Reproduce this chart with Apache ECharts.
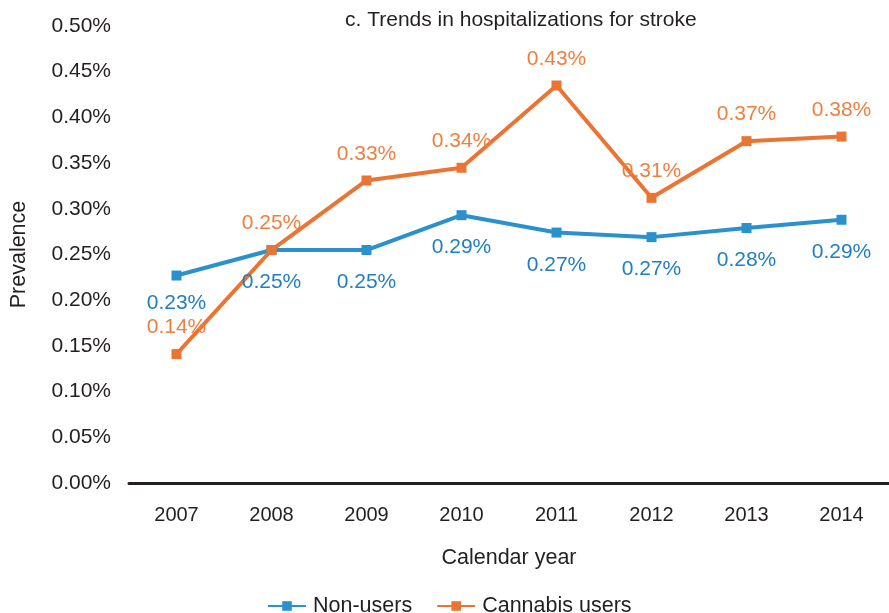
<!DOCTYPE html>
<html>
<head>
<meta charset="utf-8">
<script src="https://cdn.jsdelivr.net/npm/echarts@6/dist/echarts.min.js"></script>
<style>
  html, body { margin: 0; padding: 0; background: #fff; }
  #chart { width: 889px; height: 613px; }
</style>
</head>
<body>
<div id="chart"></div>
<script>
// data (percent)
var years = ['2007', '2008', '2009', '2010', '2011', '2012', '2013', '2014'];
var nonUsers = [0.227, 0.2549, 0.2549, 0.293, 0.274, 0.269, 0.279, 0.288];
var cannabisUsers = [0.141, 0.2549, 0.331, 0.3449, 0.4349, 0.312, 0.374, 0.379];
var yTicks = { min: 0, max: 0.5, interval: 0.05 };

var FONT = 'Liberation Sans, Arial, sans-serif';
var TEXT = '#231f20';

window.onload = function () {
    var chart = echarts.init(document.getElementById('chart'));

    var pct = function (p) { return p.value.toFixed(2) + '%'; };

    // first non-user label sits a bit closer to its point
    var nonUserData = nonUsers.map(function (v, i) {
        if (i === 0) return { value: v, label: { distance: 12 } };
        return v;
    });

    var option = {
        animation: false,
        title: {
            text: 'c. Trends in hospitalizations for stroke',
            left: 340,
            top: 5,
            textStyle: { fontFamily: FONT, fontSize: 21, fontWeight: 'normal', color: TEXT }
        },
        legend: {
            data: ['Non-users', 'Cannabis users'],
            left: 262,
            top: 590,
            itemWidth: 38,
            itemHeight: 12,
            itemGap: 24,
            textStyle: { fontFamily: FONT, fontSize: 21.5, color: TEXT, padding: [0, 0, 0, 2] }
        },
        grid: { left: 128, top: 26, width: 765, bottom: 130 },
        xAxis: {
            type: 'category',
            data: years,
            name: 'Calendar year',
            nameLocation: 'middle',
            nameGap: 64,
            nameTextStyle: { fontFamily: FONT, fontSize: 21.5, color: TEXT },
            axisLine: { lineStyle: { color: TEXT, width: 3 } },
            axisTick: { show: false },
            axisLabel: { fontFamily: FONT, fontSize: 20, color: TEXT, margin: 22 }
        },
        yAxis: {
            type: 'value',
            min: yTicks.min,
            max: yTicks.max,
            interval: yTicks.interval,
            name: 'Prevalence',
            nameLocation: 'middle',
            nameGap: 99,
            nameTextStyle: { fontFamily: FONT, fontSize: 21.5, color: TEXT },
            axisLine: { show: false },
            axisTick: { show: false },
            splitLine: { show: false },
            axisLabel: {
                fontFamily: FONT, fontSize: 21, color: TEXT, margin: 18,
                formatter: function (v) { return v.toFixed(2) + '%'; }
            }
        },
        series: [
            {
                name: 'Non-users',
                type: 'line',
                data: nonUserData,
                symbol: 'rect',
                symbolSize: 10,
                color: '#2a91cd',
                lineStyle: { width: 4, color: '#2a91cd' },
                itemStyle: { color: '#2a91cd' },
                label: {
                    show: true, position: 'bottom', distance: 17,
                    formatter: pct,
                    fontFamily: FONT, fontSize: 21, color: '#1f7fc0'
                }
            },
            {
                name: 'Cannabis users',
                type: 'line',
                data: cannabisUsers,
                symbol: 'rect',
                symbolSize: 10,
                color: '#ea7432',
                lineStyle: { width: 4, color: '#ea7432' },
                itemStyle: { color: '#ea7432' },
                label: {
                    show: true, position: 'top', distance: 11,
                    formatter: pct,
                    fontFamily: FONT, fontSize: 21, color: '#ef7f3e'
                }
            }
        ]
    };

    chart.setOption(option);
};
</script>
</body>
</html>
